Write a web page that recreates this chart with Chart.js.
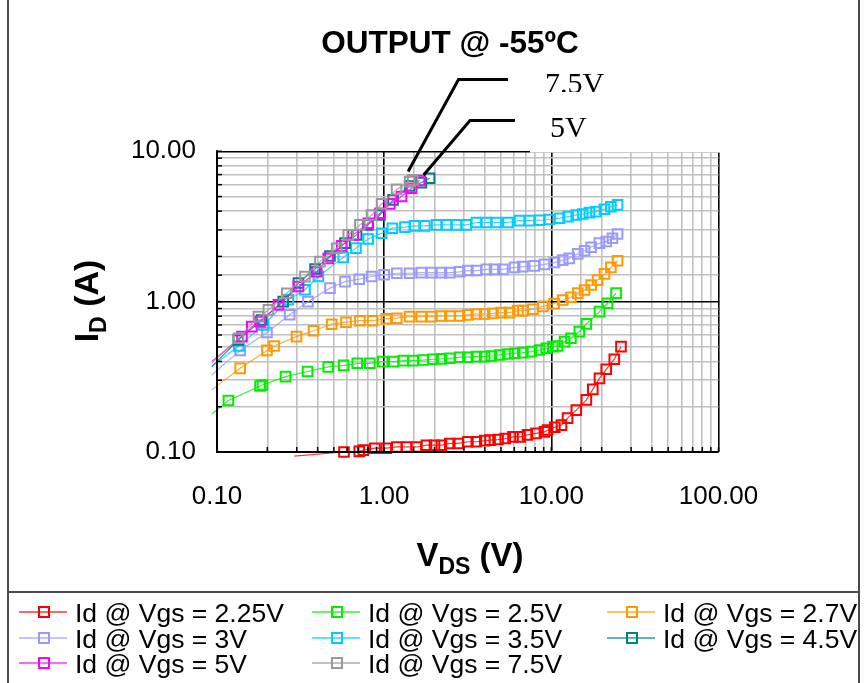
<!DOCTYPE html>
<html><head><meta charset="utf-8">
<script src="https://cdn.jsdelivr.net/npm/chart.js@4/dist/chart.umd.min.js"></script>
<style>html,body{margin:0;padding:0;background:#fff;}canvas{display:block;}</style>
</head><body>
<canvas id="c" width="866" height="683"></canvas>
<script>
// ---- data (VDS in V, ID in A); first point of each series is the line's run-in (no marker)
const vds225 = [0.29, 0.575, 0.71, 0.75, 0.88, 1.03, 1.19, 1.36, 1.56, 1.79, 2.0, 2.2, 2.47, 2.77, 3.17, 3.56, 4.0, 4.3, 4.8, 5.3, 5.9, 6.5, 7.2, 8.1, 9.1, 9.5, 10.5, 11.5, 12.5, 14.1, 16.2, 17.7, 19.4, 21.3, 23.8, 26.1];
const id225  = [0.094, 0.100, 0.101, 0.103, 0.106, 0.106, 0.108, 0.108, 0.108, 0.111, 0.111, 0.111, 0.114, 0.114, 0.117, 0.117, 0.119, 0.120, 0.121, 0.123, 0.126, 0.126, 0.130, 0.133, 0.136, 0.140, 0.146, 0.151, 0.168, 0.190, 0.222, 0.261, 0.309, 0.355, 0.414, 0.502];
const vds25 = [0.093, 0.117, 0.181, 0.187, 0.257, 0.348, 0.463, 0.573, 0.690, 0.821, 0.98, 1.14, 1.30, 1.49, 1.71, 1.96, 2.20, 2.47, 2.83, 3.17, 3.56, 3.99, 4.38, 4.91, 5.50, 6.03, 6.76, 7.59, 8.50, 9.32, 10.2, 10.9, 12.0, 13.1, 14.7, 16.2, 19.4, 21.7, 24.4];
const id25  = [0.179, 0.220, 0.275, 0.279, 0.317, 0.343, 0.368, 0.377, 0.389, 0.389, 0.399, 0.399, 0.405, 0.405, 0.409, 0.414, 0.416, 0.420, 0.427, 0.427, 0.431, 0.431, 0.435, 0.442, 0.449, 0.454, 0.458, 0.465, 0.477, 0.490, 0.502, 0.507, 0.542, 0.571, 0.632, 0.711, 0.858, 0.976, 1.14];
const vds27 = [0.093, 0.1376, 0.199, 0.2195, 0.299, 0.378, 0.485, 0.591, 0.716, 0.853, 1.03, 1.19, 1.42, 1.67, 1.92, 2.20, 2.47, 2.83, 3.17, 3.56, 3.99, 4.47, 5.02, 5.63, 6.31, 6.76, 7.76, 8.9, 10.4, 11.7, 13.1, 14.4, 15.8, 17.3, 18.9, 20.8, 22.7, 24.9];
const id27  = [0.259, 0.360, 0.474, 0.507, 0.585, 0.640, 0.708, 0.730, 0.747, 0.747, 0.77, 0.776, 0.795, 0.795, 0.795, 0.803, 0.803, 0.803, 0.816, 0.828, 0.828, 0.835, 0.845, 0.845, 0.871, 0.871, 0.890, 0.93, 0.97, 1.026, 1.07, 1.14, 1.196, 1.29, 1.39, 1.53, 1.69, 1.87];
const vds3 = [0.093, 0.1376, 0.199, 0.272, 0.350, 0.474, 0.583, 0.709, 0.841, 1.0, 1.19, 1.42, 1.67, 1.92, 2.20, 2.47, 2.83, 3.17, 3.56, 4.09, 4.58, 5.13, 6.03, 6.76, 7.9, 9.1, 10.45, 11.7, 12.8, 14.4, 15.8, 17.3, 19.4, 21.3, 23.2, 24.9];
const id3  = [0.325, 0.474, 0.624, 0.819, 1.0, 1.23, 1.36, 1.41, 1.47, 1.51, 1.545, 1.545, 1.56, 1.56, 1.56, 1.56, 1.58, 1.61, 1.61, 1.64, 1.64, 1.64, 1.69, 1.71, 1.73, 1.77, 1.82, 1.89, 1.94, 2.08, 2.18, 2.30, 2.45, 2.51, 2.64, 2.82];
const vds35 = [0.093, 0.135, 0.19, 0.267, 0.336, 0.404, 0.569, 0.678, 0.803, 0.965, 1.12, 1.33, 1.52, 1.75, 2.06, 2.36, 2.71, 3.10, 3.56, 4.09, 4.69, 5.50, 6.46, 7.41, 8.5, 9.75, 11.2, 12.6, 14.1, 15.4, 16.9, 18.5, 20.8, 22.7, 24.9];
const id35  = [0.37, 0.507, 0.70, 1.03, 1.20, 1.47, 1.97, 2.27, 2.61, 2.85, 3.08, 3.13, 3.19, 3.19, 3.24, 3.24, 3.24, 3.24, 3.36, 3.36, 3.36, 3.36, 3.46, 3.46, 3.48, 3.52, 3.59, 3.68, 3.77, 3.83, 3.91, 3.97, 4.12, 4.28, 4.40];
const vds45 = [0.093, 0.134, 0.185, 0.249, 0.307, 0.386, 0.474, 0.583, 0.684, 0.80, 0.943, 1.13, 1.42, 1.67, 1.87];
const id45  = [0.37, 0.556, 0.755, 1.0, 1.33, 1.65, 2.01, 2.45, 2.78, 3.24, 3.77, 4.75, 5.89, 6.19, 6.62];
const vds5 = [0.093, 0.141, 0.1615, 0.181, 0.233, 0.307, 0.395, 0.463, 0.557, 0.653, 0.803, 0.943, 1.08, 1.27, 1.46, 1.63];
const id5  = [0.40, 0.585, 0.682, 0.736, 0.951, 1.26, 1.58, 1.94, 2.35, 2.78, 3.32, 3.87, 4.47, 5.00, 5.68, 6.40];
const vds75 = [0.093, 0.1344, 0.177, 0.203, 0.2615, 0.336, 0.413, 0.520, 0.610, 0.716, 0.841, 0.965, 1.186, 1.42, 1.48];
const id75  = [0.39, 0.571, 0.795, 0.881, 1.137, 1.466, 1.846, 2.265, 2.78, 3.24, 3.77, 4.47, 5.58, 6.29, 6.45];

const seriesLabels = ['Id @ Vgs = 2.25V','Id @ Vgs = 2.5V','Id @ Vgs = 2.7V','Id @ Vgs = 3V','Id @ Vgs = 3.5V','Id @ Vgs = 4.5V','Id @ Vgs = 5V','Id @ Vgs = 7.5V'];
const seriesX = [vds225, vds25, vds27, vds3, vds35, vds45, vds5, vds75];
const seriesY = [id225, id25, id27, id3, id35, id45, id5, id75];
const xTickValues = [0.1, 1, 10, 100];
const xTickLabels = ['0.10', '1.00', '10.00', '100.00'];
const yTickValues = [0.1, 1, 10];
const yTickLabels = ['0.10', '1.00', '10.00'];
const titleText = 'OUTPUT @ -55\u00BAC';
const calloutLabels = ['7.5V', '5V'];

// ---- styles
const COLORS = ['#ff0000','#00ee00','#ff9900','#9999ff','#00ccff','#008080','#ff00ff','#999999'];
const FONT = '"Liberation Sans", Arial, Helvetica, sans-serif';
const SERIF = '"Liberation Serif", "Times New Roman", serif';

function rgba(hex, a){
  const n = parseInt(hex.slice(1),16);
  return `rgba(${(n>>16)&255},${(n>>8)&255},${n&255},${a})`;
}
function isDecade(v){ const l = Math.log10(v); return Math.abs(l - Math.round(l)) < 1e-6; }
function findLabel(vals, labs, v){ const i = vals.findIndex(t => Math.abs(t - v) / t < 1e-6); return i >= 0 ? labs[i] : ''; }

const datasets = seriesX.map((xs, i) => ({
  label: seriesLabels[i],
  data: xs.map((x, j) => ({x: x, y: seriesY[i][j]})),
  borderColor: rgba(COLORS[i], 0.8),
  borderWidth: 1.2,
  pointStyle: 'rect',
  pointRadius: ctx => ctx.dataIndex === 0 ? 0 : 6.8,
  pointBorderColor: COLORS[i],
  pointBackgroundColor: 'rgba(0,0,0,0)',
  pointBorderWidth: 2,
  clip: false,
  tension: 0,
  order: -i
}));

function line(c, x1, y1, x2, y2){ c.beginPath(); c.moveTo(x1,y1); c.lineTo(x2,y2); c.stroke(); }

const decor = {
  id: 'decor',
  beforeDraw(chart){
    const c = chart.ctx; c.save(); c.fillStyle = '#fff'; c.fillRect(0,0,chart.width,chart.height); c.restore();
  },
  afterDraw(chart){
    const c = chart.ctx, a = chart.chartArea, xs = chart.scales.x, ys = chart.scales.y;
    c.save();
    // inner ticks
    c.strokeStyle = '#000'; c.lineWidth = 1.5;
    xs.ticks.forEach(t => { const p = xs.getPixelForValue(t.value); line(c, p, a.bottom, p, a.bottom - 5); });
    ys.ticks.forEach(t => { const p = ys.getPixelForValue(t.value); line(c, a.left, p, a.left + 5, p); });
    // axes
    c.lineWidth = 2;
    line(c, a.left, a.top - 1, a.left, a.bottom + 1);
    line(c, a.left - 1, a.bottom, a.right, a.bottom);

    // title
    c.fillStyle = '#000'; c.textAlign = 'center'; c.textBaseline = 'alphabetic';
    c.font = 'bold 31.5px ' + FONT;
    c.fillText(titleText, 450, 53);

    // callouts
    const ds75 = chart.getDatasetMeta(7).data, ds5 = chart.getDatasetMeta(6).data;
    const p75 = ds75[ds75.length - 1], p5 = ds5[ds5.length - 1];
    c.textAlign = 'left';
    c.font = '30px ' + SERIF;
    c.fillText(calloutLabels[0], 545, 93);
    c.fillStyle = '#fff';
    c.fillRect(530, 92, 195, 60.6);
    c.fillStyle = '#000';
    c.fillText(calloutLabels[1], 550, 137);
    c.strokeStyle = '#000'; c.lineWidth = 3; c.lineCap = 'butt';
    c.beginPath(); c.moveTo(508, 79.5); c.lineTo(458.5, 79.5); c.lineTo(p75.x - 4.5, p75.y - 8.5); c.stroke();
    c.beginPath(); c.moveTo(515, 120.5); c.lineTo(470, 120.5); c.lineTo(p5.x + 4, p5.y - 5.5); c.stroke();

    // axis titles
    const big = 'bold 33px ' + FONT, small = 'bold 23px ' + FONT;
    c.font = big; const wV = c.measureText('V').width, wVp = c.measureText(' (V)').width;
    c.font = small; const wDS = c.measureText('DS').width;
    let x = 470 - (wV + wDS + wVp) / 2;
    c.font = big; c.fillText('V', x, 566); x += wV;
    c.font = small; c.fillText('DS', x, 574); x += wDS;
    c.font = big; c.fillText(' (V)', x, 566);

    c.save();
    c.translate(98, 301); c.rotate(-Math.PI / 2);
    c.font = 'bold 34px ' + FONT; const wI = c.measureText('I').width, wA = c.measureText(' (A)').width;
    c.font = small; const wD = c.measureText('D').width;
    let y = -(wI + wD + wA) / 2;
    c.font = 'bold 34px ' + FONT; c.fillText('I', y, 0); y += wI;
    c.font = small; c.fillText('D', y, 8); y += wD;
    c.font = 'bold 34px ' + FONT; c.fillText(' (A)', y, 0);
    c.restore();

    // frame
    c.strokeStyle = '#4a4a4a'; c.lineWidth = 2;
    line(c, 8, 0, 8, 683);
    line(c, 859, 0, 859, 683);
    line(c, 8, 592, 859, 592);

    // legend
    const colX = [19, 312, 607], rowY = [612, 638, 663];
    c.font = '26.5px ' + FONT; c.textAlign = 'left';
    chart.data.datasets.forEach((d, i) => {
      const lx = colX[i % 3], ly = rowY[Math.floor(i / 3)];
      c.strokeStyle = rgba(COLORS[i], 0.6); c.lineWidth = 2;
      line(c, lx, ly, lx + 48, ly);
      c.strokeStyle = COLORS[i]; c.lineWidth = 2;
      c.strokeRect(lx + 20, ly - 5, 10, 10);
      c.fillStyle = '#000';
      c.fillText(d.label, lx + 56, ly + 9.5);
    });
    c.restore();
  }
};

function gridColor(ctx){
  const v = ctx.tick && ctx.tick.value;
  if (v === undefined) return '#c0c0c0';
  return isDecade(v) ? '#000' : '#c0c0c0';
}

new Chart(document.getElementById('c'), {
  type: 'line',
  data: { datasets },
  plugins: [decor],
  options: {
    responsive: false,
    animation: false,
    devicePixelRatio: 1,
    events: [],
    layout: { padding: { left: 0, right: 147.5, top: 151.3, bottom: 0 } },
    plugins: { legend: { display: false }, title: { display: false }, tooltip: { enabled: false } },
    scales: {
      x: {
        type: 'logarithmic', min: 0.1, max: 100, position: 'bottom',
        afterFit(s){ s.height = 231; },
        border: { display: false },
        grid: { drawTicks: false, color: gridColor, lineWidth: 1.6 },
        ticks: { autoSkip: false, maxRotation: 0, padding: 29, color: '#000', font: { family: FONT, size: 26 },
          callback: v => findLabel(xTickValues, xTickLabels, v) }
      },
      y: {
        type: 'logarithmic', min: 0.1, max: 10, position: 'left',
        afterFit(s){ s.width = 217; },
        border: { display: false },
        grid: { drawTicks: false, color: gridColor, lineWidth: 1.6 },
        ticks: { autoSkip: false, padding: 21, color: '#000', font: { family: FONT, size: 26 },
          callback: v => findLabel(yTickValues, yTickLabels, v) }
      }
    }
  }
});
</script>
</body></html>
